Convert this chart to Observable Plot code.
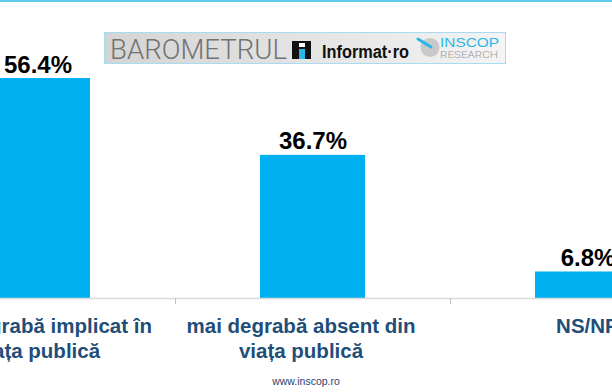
<!DOCTYPE html>
<html><head><meta charset="utf-8">
<script src="https://cdn.jsdelivr.net/npm/d3@7"></script>
<script src="https://cdn.jsdelivr.net/npm/@observablehq/plot@0.6"></script>
<style>
html,body{margin:0;padding:0;background:#fff;}
#wrap{position:relative;width:612px;height:392px;overflow:hidden;font-family:"Liberation Sans",Arial,sans-serif;}
#chart{position:absolute;left:0;top:0;}
#topline{position:absolute;left:0;top:0;width:612px;height:2px;background:#5ccbf0;}
#banner{position:absolute;left:104px;top:32px;width:402px;height:32px;box-sizing:border-box;border:1px solid #a9dcf0;background:linear-gradient(to right,#d4d4d4,#f4f4f4);}
#banner svg{position:absolute;left:-1px;top:-1px;}
#footer{position:absolute;left:0;width:612px;top:376px;text-align:center;font-size:10.5px;line-height:10.5px;color:#2d4470;}
</style></head>
<body>
<div id="wrap">
  <div id="chart"></div>
  <div id="topline"></div>
  <div id="banner">
    <svg width="402" height="32" xmlns="http://www.w3.org/2000/svg">
      <text x="6" y="26.5" font-family="Roboto, 'Liberation Sans', sans-serif" font-weight="300" font-size="28" fill="#727272" textLength="177" lengthAdjust="spacingAndGlyphs">BAROMETRUL</text>
      <rect x="188" y="9" width="19" height="18" fill="#111"/>
      <rect x="195" y="11" width="6" height="4" fill="#ffffff"/>
      <rect x="195" y="17" width="6" height="10" fill="#29b6e8"/>
      <text x="218" y="26" font-family="'Liberation Sans', Arial, sans-serif" font-weight="bold" font-size="18" fill="#111" textLength="87" lengthAdjust="spacingAndGlyphs">Informat·ro</text>
      <circle cx="326" cy="15.5" r="9.5" fill="#c9c9c9"/>
      <line x1="314" y1="7" x2="327" y2="15" stroke="#29b6e8" stroke-width="3" stroke-linecap="round"/>
      <text x="336" y="15" font-family="'Liberation Sans', Arial, sans-serif" font-size="13.5" fill="#29b6e8" textLength="59" lengthAdjust="spacingAndGlyphs">INSCOP</text>
      <text x="336" y="25.5" font-family="Roboto, 'Liberation Sans', sans-serif" font-weight="300" font-size="9.5" fill="#9a9a9a" textLength="58" lengthAdjust="spacingAndGlyphs">RESEARCH</text>
    </svg>
  </div>
  <div id="footer">www.inscop.ro</div>
</div>
<script>
const categories = ["mai degrabă implicat în\nviața publică", "mai degrabă absent din\nviața publică", "NS/NR"];
const values = [56.4, 36.7, 6.8];
const valueLabels = ["56.4%", "36.7%", "6.8%"];

const data = categories.map((c, i) => ({cat: c, value: values[i], label: valueLabels[i], i}));
const xRange = [-100, 725];
const step = (xRange[1] - xRange[0]) / categories.length;

const catLabel = {x: "cat", y: 0, text: "cat", lineAnchor: "top", dy: 17.5, fontSize: 20.5, fontWeight: "bold", fill: "#1F4E79", lineHeight: 1.2};

const chart = Plot.plot({
  width: 612,
  height: 392,
  margin: 0,
  style: {background: "transparent", fontFamily: "'Liberation Sans', Arial, sans-serif"},
  x: {type: "band", domain: categories, range: xRange, padding: 0, axis: null},
  y: {domain: [0, 60], range: [298, 64], axis: null},
  marks: [
    Plot.barY(data, {x: "cat", y: "value", fill: "#00B0F0", insetLeft: 85, insetRight: 85}),
    Plot.ruleY([0], {stroke: "#d9d9d9", strokeWidth: 1.5}),
    Plot.ruleX(categories, {x: d => d, y1: 0, y2: 0, dx: -step / 2, insetBottom: -6, stroke: "#bfbfbf"}),
    Plot.text(data, {x: "cat", y: "value", text: "label", lineAnchor: "bottom", dy: -6, fontSize: 24, fontWeight: "bold", fill: "#000"}),
    Plot.text(data, {...catLabel, filter: d => d.i !== 1}),
    Plot.text(data, {...catLabel, filter: d => d.i === 1, dx: -12})
  ]
});
document.getElementById("chart").appendChild(chart);
</script>
</body></html>
